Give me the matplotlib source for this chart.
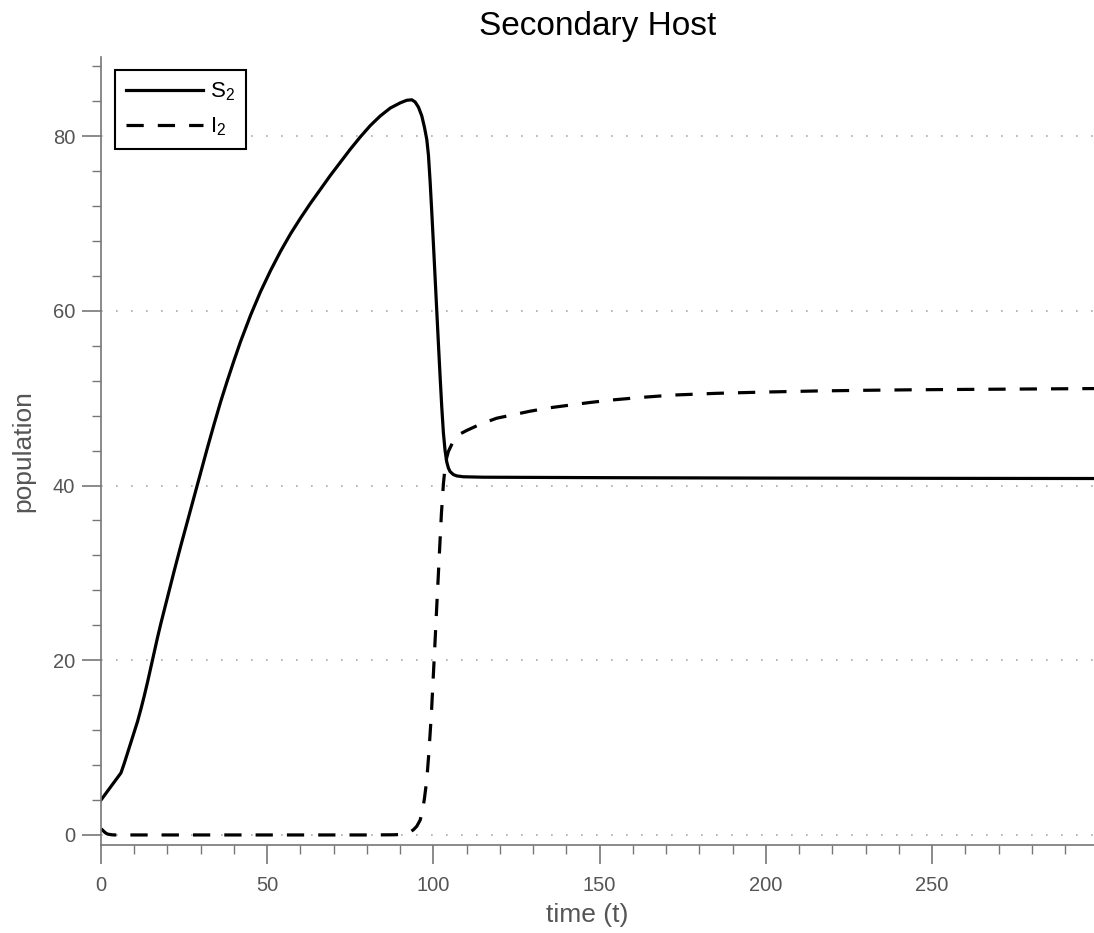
import numpy as np
import matplotlib.pyplot as plt
from matplotlib.ticker import MultipleLocator

# values
t_s = [0, 3, 6, 7, 8, 9, 10, 11, 12, 13, 14, 15, 16, 17, 18, 19, 20, 22, 24,
       26, 28, 30, 32, 34, 36, 38, 40, 42, 45, 48, 51, 54, 57, 60, 63, 66, 69,
       72, 75, 78, 81, 84, 87, 90, 92, 93.5, 94.5, 95.5, 96.5, 97.3, 98, 98.5,
       99, 99.5, 100, 100.5, 101, 101.5, 102, 102.5, 103, 103.5, 104, 104.5,
       105, 106, 107, 109, 115, 150, 200, 250, 300]
s2 = [4.0, 5.55, 7.1, 8.2, 9.4, 10.6, 11.8, 13.0, 14.4, 15.9, 17.5, 19.2, 20.9,
      22.6, 24.2, 25.7, 27.2, 30.2, 33.1, 35.9, 38.7, 41.5, 44.3, 47.0, 49.6,
      52.0, 54.3, 56.5, 59.5, 62.2, 64.6, 66.8, 68.8, 70.6, 72.3, 73.9, 75.5,
      77.0, 78.5, 79.9, 81.2, 82.3, 83.2, 83.8, 84.1, 84.15, 83.9, 83.3, 82.3,
      81.0, 79.6, 77.8, 74.8, 71.3, 67.6, 63.8, 60.0, 56.2, 52.5, 49.0, 46.0,
      44.0, 42.7, 42.0, 41.6, 41.25, 41.1, 41.0, 40.95, 40.9, 40.85, 40.82, 40.8]

t_i = [0, 0.5, 1, 1.5, 2, 3, 4, 20, 40, 60, 80, 88, 90, 91, 92, 93, 94, 95, 96,
       96.7, 97.3, 98, 98.7, 99.4, 100, 100.4, 101, 101.4, 102, 102.4, 103,
       103.5, 104, 104.5, 105.5, 106.5, 108, 110, 114, 119, 124, 129, 135, 141,
       147, 154, 163, 172, 185, 200, 215, 230, 245, 260, 280, 300]
i2 = [0.7, 0.55, 0.35, 0.2, 0.1, 0.03, 0, 0, 0, 0, 0, 0.02, 0.05, 0.1, 0.2,
      0.35, 0.6, 1.0, 1.7, 2.7, 4.2, 6.3, 9.8, 14.0, 18.5, 21.5, 26.2, 29.2,
      33.8, 36.8, 40.2, 42.1, 43.2, 43.9, 44.7, 45.4, 45.9, 46.3, 47.0, 47.7,
      48.1, 48.5, 48.9, 49.2, 49.5, 49.8, 50.1, 50.35, 50.55, 50.7, 50.82,
      50.9, 50.96, 51.0, 51.05, 51.1]

plt.rcParams['font.family'] = ['Liberation Sans', 'DejaVu Sans']

fig = plt.figure(figsize=(10.94, 9.33), dpi=100)
ax = fig.add_axes([101 / 1094, 88 / 933, 993 / 1094, 788 / 933])

ax.plot(t_s, s2, color='black', lw=2.3, label='$\\mathregular{S_2}$')
ax.plot(t_i, i2, color='black', lw=2.3, linestyle=(0, (5.4, 4.4)),
        label='$\\mathregular{I_2}$')

ax.set_xlim(0, 298.7)
ax.set_ylim(-1.15, 89.05)

ax.xaxis.set_major_locator(MultipleLocator(50))
ax.xaxis.set_minor_locator(MultipleLocator(10))
ax.yaxis.set_major_locator(MultipleLocator(20))
ax.yaxis.set_minor_locator(MultipleLocator(4))

ax.grid(axis='y', which='major', color='#aaaaaa', lw=1.2, linestyle=(0, (1, 8)))
ax.set_axisbelow(True)

for side in ['top', 'right']:
    ax.spines[side].set_visible(False)
for side in ['left', 'bottom']:
    ax.spines[side].set_color('#777777')
    ax.spines[side].set_linewidth(1.2)

ax.tick_params(which='major', direction='out', length=13.5, width=1.2,
               color='#777777', labelcolor='#555555', labelsize=14.5)
ax.tick_params(which='minor', direction='out', length=6.5, width=1.0,
               color='#777777')
ax.tick_params(axis='x', which='major', pad=9)
ax.tick_params(axis='y', which='major', pad=5)

ax.set_title('Secondary Host', fontsize=24, pad=16)
ax.set_xlabel('time (t)', fontsize=19, color='#555555')
ax.set_ylabel('population', fontsize=19, color='#555555')
ax.xaxis.set_label_coords(0.49, -0.074)
ax.yaxis.set_label_coords(-0.066, 0.5)

leg = ax.legend(loc='upper left', bbox_to_anchor=(0.014, 0.984),
                borderaxespad=0, fontsize=16, handlelength=3.45,
                fancybox=False, framealpha=1, edgecolor='black',
                borderpad=0.5, labelspacing=0.55, handletextpad=0.35)
leg.get_frame().set_linewidth(1.5)

fig.savefig('out.png', dpi=100)
